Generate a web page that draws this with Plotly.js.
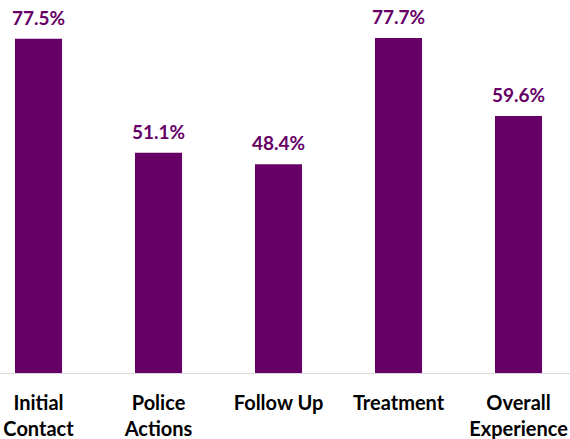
<!DOCTYPE html>
<html>
<head>
<meta charset="utf-8">
<script src="https://cdn.plot.ly/plotly-3.0.1.min.js"></script>
<style>html,body{margin:0;padding:0;background:#fff;}#chart{width:570px;height:439px;}</style>
</head>
<body>
<div id="chart"></div>
<script>
const categories = ["Initial Contact", "Police Actions", "Follow Up", "Treatment", "Overall Experience"];
const tickLabels = ["Initial<br>Contact", "Police<br>Actions", "Follow Up", "Treatment", "Overall<br>Experience"];
const values = [77.5, 51.1, 48.4, 77.7, 59.6];
const valueLabels = ["77.5%", "51.1%", "48.4%", "77.7%", "59.6%"];

const purple = "#660066";
const xIdx = categories.map((_, i) => i);

const trace = {
  type: "bar",
  x: xIdx,
  y: values,
  marker: {color: purple},
  hoverinfo: "skip"
};

const annotations = xIdx.map((xi, i) => ({
  x: xi, y: values[i], xref: "x", yref: "y",
  text: valueLabels[i], showarrow: false,
  yanchor: "bottom", yshift: 8,
  font: {family: "Lato, sans-serif", size: 19, color: purple, weight: "bold"}
}));

const layout = {
  width: 570, height: 439,
  margin: {l: 0, r: 0, t: 0, b: 66, pad: 0},
  paper_bgcolor: "#fff", plot_bgcolor: "#fff",
  bargap: 0.608,
  showlegend: false,
  xaxis: {
    range: [-0.321, 4.429],
    tickvals: xIdx, ticktext: tickLabels,
    showgrid: false, zeroline: false,
    showline: true, linecolor: "#d9d9d9", linewidth: 1,
    ticks: "", ticklabelstandoff: 12,
    tickfont: {family: "Lato, sans-serif", size: 20, color: "#000", weight: "bold"},
    fixedrange: true
  },
  yaxis: {
    range: [0, 86.5], visible: false, showgrid: false, zeroline: false, fixedrange: true
  },
  annotations: annotations
};

Plotly.newPlot("chart", [trace], layout, {displayModeBar: false, staticPlot: true});
</script>
</body>
</html>
